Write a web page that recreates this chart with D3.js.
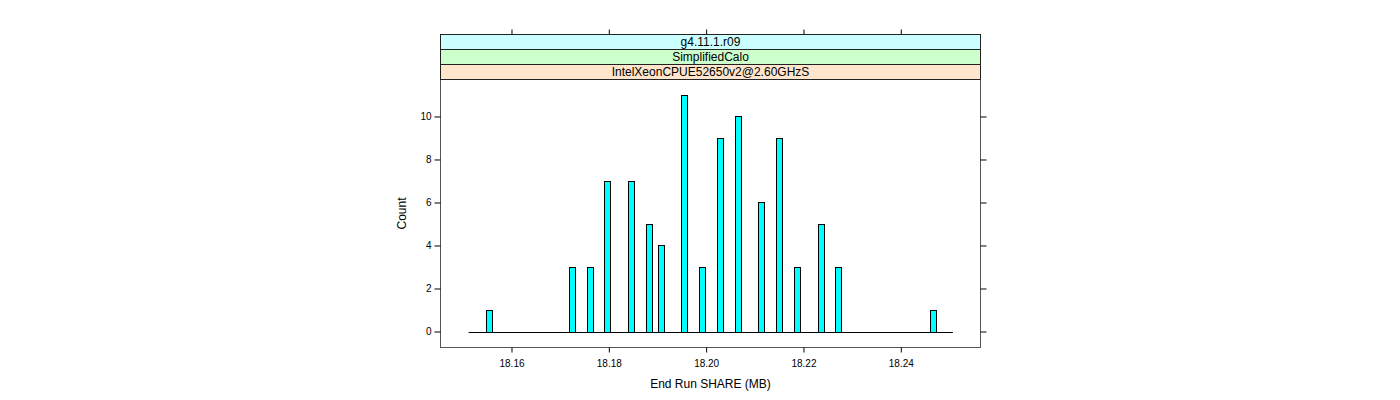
<!DOCTYPE html>
<html>
<head>
<meta charset="utf-8">
<script src="https://cdn.jsdelivr.net/npm/d3@7"></script>
<style>
  body { margin: 0; background: #fff; }
  text { font-family: 'Liberation Sans', Arial, sans-serif; }
</style>
</head>
<body>
<div id="chart"></div>
<script>
// histogram bins with a non-zero count (left edge in MB)
const binStarts = [18.1548, 18.17178, 18.17542, 18.17905, 18.18384, 18.18754, 18.19001,
  18.19488, 18.19858, 18.20214, 18.20584, 18.21057, 18.21426, 18.21796, 18.2229,
  18.22639, 18.24592]
const counts = [1, 3, 3, 7, 7, 5, 4, 11, 3, 9, 10, 6, 9, 3, 5, 3, 1]
const binWidth = 0.00123
const histRange = [18.1512, 18.2507]

const xTicks = [18.16, 18.18, 18.2, 18.22, 18.24]
const yTicks = [0, 2, 4, 6, 8, 10]
const strips = [
  { label: 'g4.11.1.r09', fill: '#ccffff' },
  { label: 'SimplifiedCalo', fill: '#ccffcc' },
  { label: 'IntelXeonCPUE52650v2@2.60GHzS', fill: '#ffe5cc' }
]

const width = 1400
const height = 400
const panel = { left: 440.5, right: 980.5, top: 79.5, bottom: 347.5 }
const stripH = 15

const svg = d3
  .select('#chart')
  .append('svg')
  .attr('width', width)
  .attr('height', height)

const x = d3
  .scaleLinear()
  .domain([18.14541, 18.25638])
  .range([panel.left, panel.right])

const y = d3
  .scaleLinear()
  .domain([-0.744, 11.72])
  .range([panel.bottom, panel.top])

const bins = binStarts.map((d, i) => ({ x0: d, x1: d + binWidth, count: counts[i] }))

// zero-count bins show up as a flat line
svg
  .append('line')
  .attr('x1', x(histRange[0]))
  .attr('x2', x(histRange[1]))
  .attr('y1', Math.round(y(0)) + 0.5)
  .attr('y2', Math.round(y(0)) + 0.5)
  .attr('stroke', '#000')

svg
  .selectAll('.bar')
  .data(bins)
  .enter()
  .append('rect')
  .attr('class', 'bar')
  .attr('x', d => Math.round(x(d.x0)) + 0.5)
  .attr('width', d => Math.round(x(d.x1) - x(d.x0)))
  .attr('y', d => Math.round(y(d.count)) + 0.5)
  .attr('height', d => Math.round(y(0)) - Math.round(y(d.count)))
  .attr('fill', '#00ffff')
  .attr('stroke', '#000')
  .attr('stroke-width', 1)

// panel box
svg
  .append('rect')
  .attr('x', panel.left)
  .attr('y', panel.top)
  .attr('width', panel.right - panel.left)
  .attr('height', panel.bottom - panel.top)
  .attr('fill', 'none')
  .attr('stroke', '#555')

// strips, outer level on top
strips.forEach((s, i) => {
  const top = panel.top - stripH * (strips.length - i)
  svg
    .append('rect')
    .attr('x', panel.left)
    .attr('y', top)
    .attr('width', panel.right - panel.left)
    .attr('height', stripH)
    .attr('fill', s.fill)
    .attr('stroke', '#222')
  svg
    .append('text')
    .attr('x', (panel.left + panel.right) / 2)
    .attr('y', top + stripH / 2)
    .attr('dy', '0.36em')
    .attr('text-anchor', 'middle')
    .attr('font-size', 12)
    .text(s.label)
})

const stripTop = panel.top - stripH * strips.length

// x axis ticks, bottom labelled, top bare
svg
  .append('g')
  .attr('transform', 'translate(0,' + panel.bottom + ')')
  .call(d3.axisBottom(x).tickValues(xTicks).tickSize(5).tickSizeOuter(0).tickFormat(d3.format('.2f')))
  .call(g => g.select('.domain').remove())
  .call(g => g.selectAll('text').attr('font-size', 10).attr('font-family', 'Liberation Sans, Arial, sans-serif').attr('dy', '1.1em'))

svg
  .append('g')
  .attr('transform', 'translate(0,' + stripTop + ')')
  .call(d3.axisTop(x).tickValues(xTicks).tickSize(5).tickFormat(''))
  .call(g => g.select('.domain').remove())

// y axis ticks, left labelled, right bare
svg
  .append('g')
  .attr('transform', 'translate(' + panel.left + ',0)')
  .call(d3.axisLeft(y).tickValues(yTicks).tickSize(6).tickFormat(d3.format('d')))
  .call(g => g.select('.domain').remove())
  .call(g => g.selectAll('text').attr('font-size', 10).attr('font-family', 'Liberation Sans, Arial, sans-serif').attr('x', -9))

svg
  .append('g')
  .attr('transform', 'translate(' + panel.right + ',0)')
  .call(d3.axisRight(y).tickValues(yTicks).tickSize(6).tickFormat(''))
  .call(g => g.select('.domain').remove())

svg
  .append('text')
  .attr('x', (panel.left + panel.right) / 2)
  .attr('y', 388)
  .attr('text-anchor', 'middle')
  .attr('font-size', 12)
  .text('End Run SHARE (MB)')

svg
  .append('text')
  .attr('transform', 'translate(406,' + (panel.top + panel.bottom) / 2 + ') rotate(-90)')
  .attr('text-anchor', 'middle')
  .attr('font-size', 12)
  .text('Count')
</script>
</body>
</html>
